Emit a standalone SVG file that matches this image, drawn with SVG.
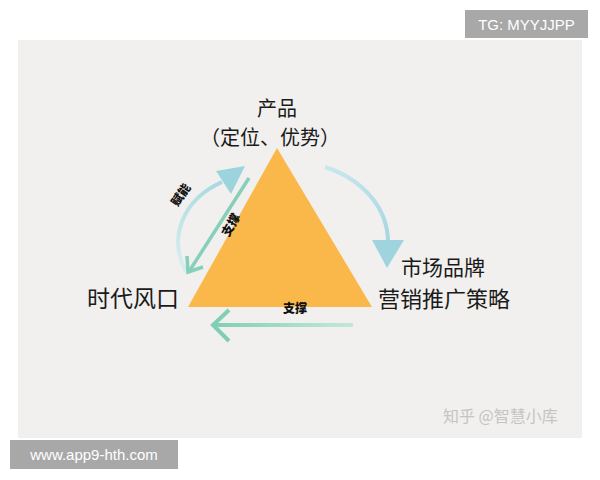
<svg xmlns="http://www.w3.org/2000/svg" width="600" height="480" viewBox="0 0 600 480">
<style>
.lbl{font-family:"Noto Sans CJK SC","Noto Sans",sans-serif;fill:#1a1a1a}
.cal{font-family:"Noto Sans CJK SC",sans-serif;font-weight:900;font-size:12px;fill:#111}
.wm{font-family:"Liberation Sans","DejaVu Sans",sans-serif;fill:#fff;font-size:15px}
</style>
<defs>
<linearGradient id="g1" gradientUnits="userSpaceOnUse" x1="186" y1="272" x2="240" y2="170">
<stop offset="0" stop-color="#d9eeee"/><stop offset="1" stop-color="#9bd4de"/>
</linearGradient>
<linearGradient id="g2" gradientUnits="userSpaceOnUse" x1="353" y1="325" x2="212" y2="325">
<stop offset="0" stop-color="#c3e8db"/><stop offset="1" stop-color="#7fceb6"/>
</linearGradient>
<linearGradient id="g3" gradientUnits="userSpaceOnUse" x1="325" y1="167" x2="388" y2="268">
<stop offset="0" stop-color="#c9e7ee"/><stop offset="1" stop-color="#9dd3df"/>
</linearGradient>
</defs>
<rect width="600" height="480" fill="#ffffff"/>
<rect x="18" y="40" width="564" height="398" fill="#f1f0ee"/>
<g id="watermark-tg">
<rect x="465" y="10" width="123" height="28" fill="#a8a8a8"/>
<text class="wm" x="526.5" y="29.5" text-anchor="middle">TG: MYYJJPP</text>
</g>
<g id="watermark-url">
<rect x="10" y="440" width="168" height="29" fill="#a8a8a8"/>
<text class="wm" x="94" y="460" text-anchor="middle">www.app9-hth.com</text>
</g>
<text x="443" y="422" font-family="Noto Sans CJK SC,sans-serif" font-size="16" fill="#c4c4c4">知乎 @智慧小库</text>
<g id="triangle">
<polygon points="277,148 188,307 372,307" fill="#fbb84a"/>
</g>
<g id="connectors" fill="none" stroke-width="4">
<path d="M186,272 C168,238 182,200 222,182" stroke="url(#g1)"/>
<polygon points="245,166 216,171 231,194" fill="#9cd4de" stroke="none"/>
<path d="M249,178 L190,270" stroke="#86d0bb" stroke-width="3.5"/>
<path d="M203,267 L188,272 L187,256" stroke="#86d0bb" stroke-width="3.5" stroke-linejoin="miter"/>
<path d="M325,167 C365,180 388,210 388,242" stroke="url(#g3)"/>
<polygon points="387,268 372,240 404,240" fill="#9fd4df" stroke="none"/>
<path d="M353,325 L214,325" stroke="url(#g2)"/>
<path d="M229,310 L213,325 L229,341" stroke="#80ceb6" stroke-width="4"/>
</g>
<g id="node-product">
<text class="lbl" x="277" y="116" font-size="20" text-anchor="middle">产品</text>
<text class="lbl" x="270" y="145" font-size="20" text-anchor="middle">（定位、优势）</text>
</g>
<g id="node-era">
<text class="lbl" x="133" y="307" font-size="23" text-anchor="middle">时代风口</text>
</g>
<g id="node-market">
<text class="lbl" x="443" y="275" font-size="21" text-anchor="middle">市场品牌</text>
<text class="lbl" x="444" y="307" font-size="22" text-anchor="middle">营销推广策略</text>
</g>
<g id="edge-labels">
<text class="cal" x="0" y="4" text-anchor="middle" transform="translate(181,195) rotate(-55)">赋能</text>
<text class="cal" x="0" y="4" text-anchor="middle" transform="translate(231,225) rotate(-60)">支撑</text>
<text class="cal" x="295" y="313" text-anchor="middle">支撑</text>
</g>
</svg>
